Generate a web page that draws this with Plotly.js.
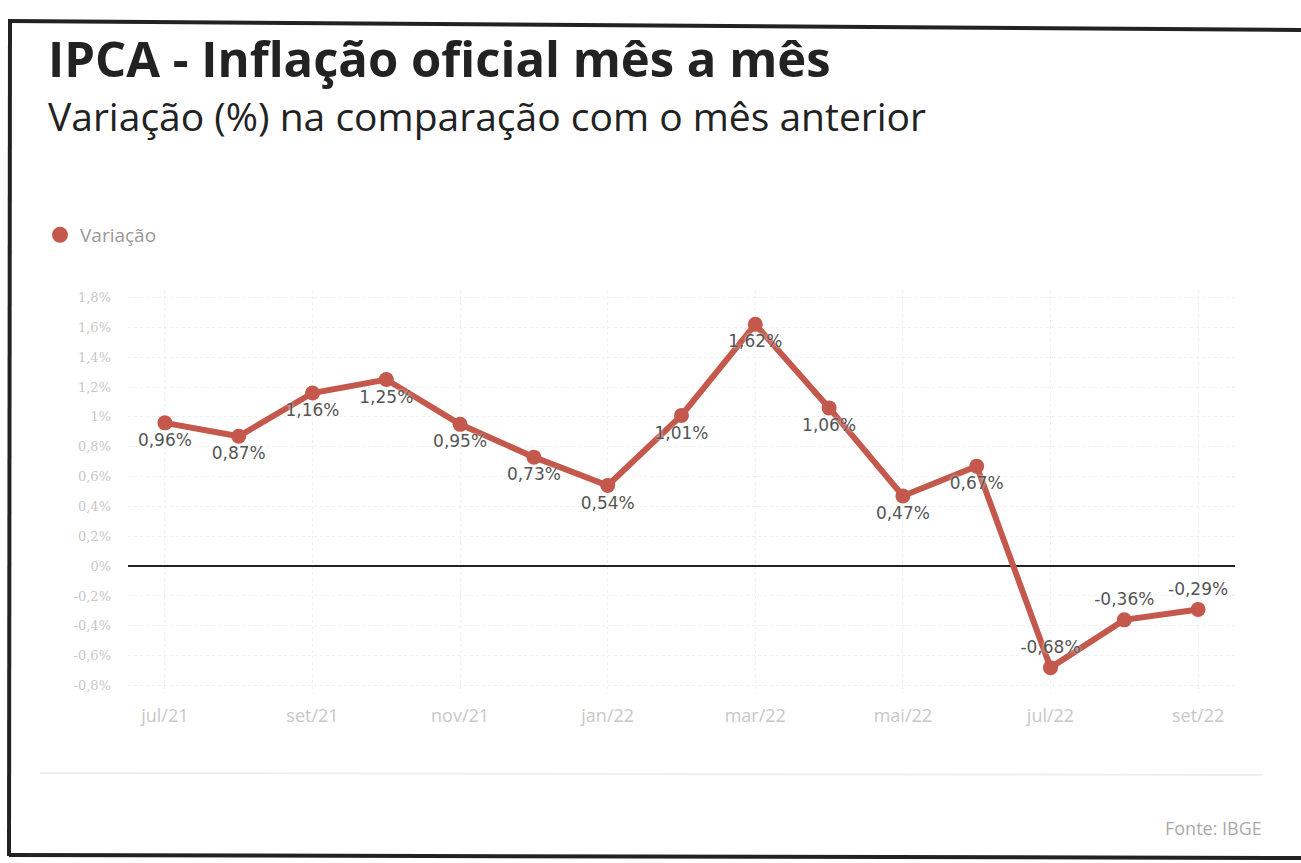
<!DOCTYPE html>
<html><head><meta charset="utf-8">
<script src="https://cdn.plot.ly/plotly-3.0.1.min.js"></script>
<style>html,body{margin:0;padding:0;background:#fff}#chart{width:1301px;height:863px}</style>
</head><body><div id="chart"></div>
<script>
const months = ["jul/21","ago/21","set/21","out/21","nov/21","dez/21","jan/22","fev/22","mar/22","abr/22","mai/22","jun/22","jul/22","ago/22","set/22"];
const values = [0.96,0.87,1.16,1.25,0.95,0.73,0.54,1.01,1.62,1.06,0.47,0.67,-0.68,-0.36,-0.29];
const labels = ["0,96%","0,87%","1,16%","1,25%","0,95%","0,73%","0,54%","1,01%","1,62%","1,06%","0,47%","0,67%","-0,68%","-0,36%","-0,29%"];
const labelPos = ["bottom center","bottom center","bottom center","bottom center","bottom center","bottom center","bottom center","bottom center","bottom center","bottom center","bottom center","bottom center","top center","top center","top center"];
const xTicks = ["jul/21","set/21","nov/21","jan/22","mar/22","mai/22","jul/22","set/22"];
const yTickVals = [1.8,1.6,1.4,1.2,1,0.8,0.6,0.4,0.2,0,-0.2,-0.4,-0.6,-0.8];
const yTickText = ["1,8%","1,6%","1,4%","1,2%","1%","0,8%","0,6%","0,4%","0,2%","0%","-0,2%","-0,4%","-0,6%","-0,8%"];

const W=1301,H=863, L=128, R=66, T=290, B=170;
const pw=W-L-R, ph=H-T-B;
const px=x=>(x-L)/pw, py=y=>(H-B-y)/ph;

const red="#c4584c";
const trace={x:months,y:values,type:"scatter",mode:"lines+markers+text",name:"Variação",showlegend:false,
  line:{color:red,width:6},marker:{color:red,size:15},
  text:labels,textposition:labelPos,
  textfont:{family:"DejaVu Sans, sans-serif",size:17,color:"#555",shadow:"0px 0px 3px #fff"},
  cliponaxis:false,hoverinfo:"x+y"};
const legendTrace={x:[null],y:[null],type:"scatter",mode:"markers",name:"Variação",
  marker:{color:red,size:22},showlegend:true};

const layout={width:W,height:H,paper_bgcolor:"#fff",plot_bgcolor:"#fff",
  margin:{l:L,r:R,t:T,b:B,autoexpand:false},showlegend:true,
  legend:{xref:"container",yref:"container",x:40/W,y:1-216/H,xanchor:"left",yanchor:"top",
    font:{family:"Open Sans",size:19,color:"#999"},itemsizing:"trace",itemwidth:30},
  xaxis:{type:"category",range:[-0.5,14.5],tickvals:xTicks,ticktext:xTicks,automargin:false,
    showgrid:true,gridcolor:"#f0f0f0",griddash:"dot",zeroline:false,showline:false,ticks:"",
    tickfont:{family:"Open Sans",size:18,color:"#c8c8c8"},ticklabelstandoff:10},
  yaxis:{range:[-0.85,1.85],tickvals:yTickVals,ticktext:yTickText,automargin:false,
    showgrid:true,gridcolor:"#f0f0f0",griddash:"dot",zeroline:true,zerolinecolor:"#222",zerolinewidth:2,
    showline:false,ticks:"",tickfont:{family:"DejaVu Serif",size:13,color:"#c8c8c8"},ticklabelstandoff:16},
  annotations:[
    {xref:"paper",yref:"paper",x:px(46),y:py(58),xanchor:"left",yanchor:"middle",showarrow:false,
     text:"<b>IPCA - Inflação oficial mês a mês</b>",font:{family:"Open Sans",size:49,color:"#222"}},
    {xref:"paper",yref:"paper",x:px(46),y:py(115),xanchor:"left",yanchor:"middle",showarrow:false,
     text:"Variação (%) na comparação com o mês anterior",font:{family:"Open Sans",size:39,color:"#222"}},
    {xref:"paper",yref:"paper",x:px(1264),y:py(828),xanchor:"right",yanchor:"middle",showarrow:false,
     text:"Fonte: IBGE",font:{family:"Open Sans",size:18,color:"#aaa"}}
  ],
  shapes:[
    {type:"line",xref:"paper",yref:"paper",x0:px(40),x1:px(1262),y0:py(773),y1:py(775),line:{color:"#eee",width:2}},
    {type:"line",xref:"paper",yref:"paper",x0:px(8),x1:px(1301),y0:py(21),y1:py(30),line:{color:"#222",width:4}},
    {type:"line",xref:"paper",yref:"paper",x0:px(10),x1:px(9),y0:py(21),y1:py(856),line:{color:"#222",width:4}},
    {type:"line",xref:"paper",yref:"paper",x0:px(9),x1:px(1301),y0:py(855),y1:py(858),line:{color:"#222",width:4}}
  ]};
Plotly.newPlot("chart",[trace,legendTrace],layout,{displayModeBar:false,staticPlot:true});
</script></body></html>
